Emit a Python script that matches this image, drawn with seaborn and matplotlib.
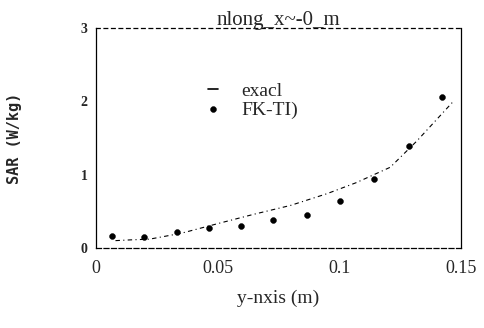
import matplotlib
matplotlib.use("Agg")
import matplotlib.pyplot as plt
import numpy as np
import pandas as pd
import seaborn as sns

# values
exact_x = [0.008, 0.014, 0.022, 0.035, 0.051, 0.065, 0.080, 0.095, 0.107, 0.121, 0.132, 0.137, 0.147]
exact_sar = [0.10, 0.11, 0.12, 0.20, 0.34, 0.46, 0.58, 0.74, 0.89, 1.10, 1.46, 1.64, 2.00]

fdtd_x = [0.0066, 0.0197, 0.0333, 0.0464, 0.0596, 0.0727, 0.0867, 0.1002, 0.1142, 0.1286, 0.1421]
fdtd_sar = [0.16, 0.15, 0.22, 0.27, 0.30, 0.38, 0.45, 0.64, 0.94, 1.39, 2.06]

x_ticks = [0, 0.05, 0.1, 0.15]
x_tick_labels = ['0', '0.05', '0.1', '0.15']
y_ticks = [0, 1, 2, 3]
y_tick_labels = ['0', '1', '2', '3']

exact_df = pd.DataFrame({'y': exact_x, 'sar': exact_sar})
fdtd_df = pd.DataFrame({'y': fdtd_x, 'sar': fdtd_sar})

sns.set_style('white')
plt.rcParams['font.family'] = ['Liberation Serif', 'DejaVu Serif']

fig = plt.figure(figsize=(4.85, 3.28), dpi=100)
ax = fig.add_axes([0.198, 0.244, 0.752, 0.671])

sns.lineplot(data=exact_df, x='y', y='sar', ax=ax, color='black',
             linewidth=0.8, linestyle=(0, (4, 3, 1, 3)), label='exacl')
sns.scatterplot(data=fdtd_df, x='y', y='sar', ax=ax, color='black',
                marker='o', s=18, edgecolor='black', label='FK-TI)')

ax.set_xlim(0, 0.15)
ax.set_ylim(0, 3)
ax.set_xticks(x_ticks)
ax.set_xticklabels(x_tick_labels, fontsize=13)
ax.set_yticks(y_ticks)
ax.set_yticklabels(y_tick_labels, fontsize=10, fontweight='bold')
ax.tick_params(axis='both', length=0, pad=6)
ax.tick_params(axis='x', pad=9)

for side in ['left', 'right', 'top', 'bottom']:
    ax.spines[side].set_visible(True)
    ax.spines[side].set_color('black')
    ax.spines[side].set_linewidth(0.9)
ax.spines['top'].set_linestyle((0, (3, 3)))
ax.spines['bottom'].set_linestyle((0, (4, 2)))

ax.set_title('nlong_x~-0_m', fontsize=15, pad=2)
ax.set_xlabel('y-nxis (m)', fontsize=14, labelpad=9)
ax.set_ylabel('SAR (W/kg)', fontsize=11, fontweight='bold',
              family=['DejaVu Sans Mono', 'DejaVu Sans'], labelpad=42)

leg = ax.legend(loc='center', bbox_to_anchor=(0.43, 0.67), frameon=False,
                fontsize=14, handlelength=0.5, handletextpad=1.2,
                labelspacing=0.05)
# the scan shows the exact-curve key as a plain short dash
leg.get_lines()[0].set_linestyle('-')
leg.get_lines()[0].set_linewidth(1.2)

fig.savefig('out.png', dpi=100)
